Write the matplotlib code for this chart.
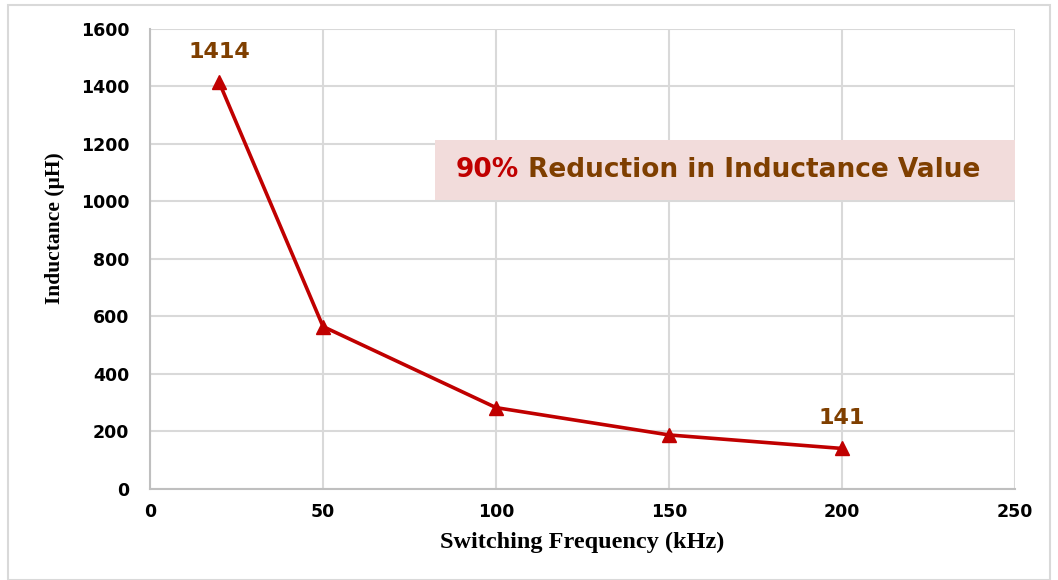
import matplotlib
matplotlib.use('Agg')
import matplotlib.pyplot as plt
from matplotlib.patches import Rectangle

# switching frequency (kHz) vs inductance (uH)
freq = [20, 50, 100, 150, 200]
inductance = [1414, 565, 283, 188, 141]
labelled = {0: '1414', 4: '141'}

xticks = [0, 50, 100, 150, 200, 250]
yticks = [0, 200, 400, 600, 800, 1000, 1200, 1400, 1600]

red = '#c00000'
brown = '#7f3f00'
grid = '#d9d9d9'

fig = plt.figure(figsize=(10.58, 5.80), dpi=100)
ax = fig.add_axes([0.1418, 0.1569, 0.8176, 0.7931])

# outer chart frame
fig.patches.append(Rectangle((8 / 1058, 0.0), 1042 / 1058, 575 / 580, transform=fig.transFigure,
                             fill=False, edgecolor=grid, linewidth=1.5))

ax.plot(freq, inductance, color=red, linewidth=2.6, marker='^', markersize=10,
        markerfacecolor=red, markeredgecolor=red, zorder=3, clip_on=False)

for i, txt in labelled.items():
    ax.annotate(txt, (freq[i], inductance[i]), xytext=(0, 15), textcoords='offset points',
                ha='center', va='bottom', color=brown, fontsize=16, fontweight='bold',
                family='DejaVu Sans')

ax.set_xlim(0, 250)
ax.set_ylim(0, 1600)
ax.set_xticks(xticks)
ax.set_yticks(yticks)
ax.grid(True, color=grid, linewidth=1.5)
ax.set_axisbelow(True)
for s in ['top', 'right']:
    ax.spines[s].set_visible(False)
for s in ['left', 'bottom']:
    ax.spines[s].set_color('#bfbfbf')
    ax.spines[s].set_linewidth(1.5)
ax.tick_params(axis='y', length=0, pad=15)
ax.tick_params(axis='x', length=0, pad=10)
for lab in ax.get_xticklabels() + ax.get_yticklabels():
    lab.set_fontweight('bold')
    lab.set_fontsize(12.5)
    lab.set_family('DejaVu Sans')

ax.set_xlabel('Switching Frequency (kHz)', fontsize=17.5, fontweight='bold',
              family='Liberation Serif')
ax.xaxis.set_label_coords(0.4994, -0.093)
ax.set_ylabel('Inductance (\u00b5H)', fontsize=15.5, fontweight='bold',
              family='Liberation Serif')
ax.yaxis.set_label_coords(-0.098, 0.567)

# annotation box
ax.add_patch(Rectangle((0.3295, 0.628), 0.6705, 0.131, transform=ax.transAxes,
                       facecolor='#f2dcdb', edgecolor='none', zorder=2))
t1 = ax.text(0.353, 0.6935, '90%', transform=ax.transAxes, ha='left', va='center',
             color=red, fontsize=19, fontweight='bold', family='DejaVu Sans', zorder=4)
ax.annotate(' Reduction in Inductance Value', xy=(1, 0), xycoords=t1, ha='left', va='bottom',
            color=brown, fontsize=19, fontweight='bold', family='DejaVu Sans', zorder=4)

fig.savefig('out.png', dpi=100)
